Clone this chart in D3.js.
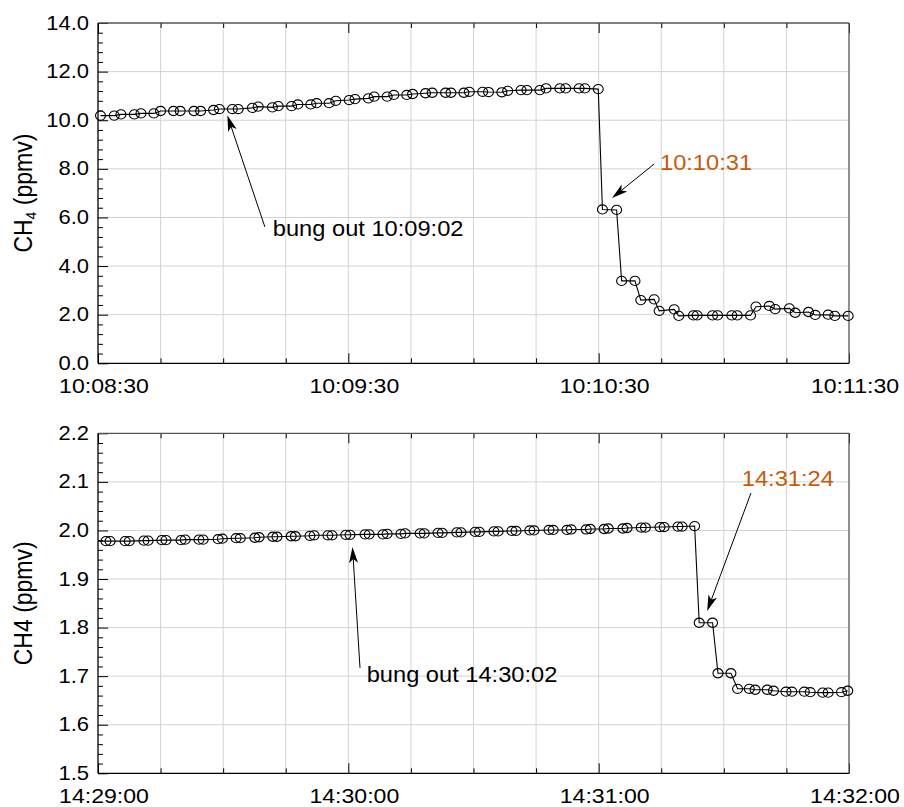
<!DOCTYPE html>
<html><head><meta charset="utf-8">
<script src="https://cdn.jsdelivr.net/npm/d3@7"></script>
<style>body{margin:0;background:#fff} svg{display:block}</style>
</head><body><svg id="c" width="904" height="807"></svg>
<script>
// ---------- DATA ----------
const topStart = "10:08:30";
const topTickLabels = ["10:08:30", "10:09:30", "10:10:30", "10:11:30"];
const topYTickLabels = ["0.0", "2.0", "4.0", "6.0", "8.0", "10.0", "12.0", "14.0"];
// seconds after 10:08:30
const topSeconds = [0.6, 3.9, 5.5, 8.7, 10.3, 13.4, 15.0, 18.1, 19.7, 23.0, 24.6, 27.7, 29.1, 32.2, 33.6,
  37.0, 38.4, 41.8, 43.2, 46.4, 47.9, 51.0, 52.4, 55.4, 57.0, 60.2, 61.6, 64.8, 66.2, 69.3, 70.9,
  74.0, 75.4, 78.5, 80.1, 83.3, 84.6, 87.7, 89.0, 92.2, 93.6, 96.8, 98.2, 101.4, 102.8, 105.9, 107.4,
  110.7, 112.1, 115.3, 116.7, 119.9, 120.9, 124.3, 125.5, 128.7, 130.1, 133.3, 134.5, 138.1, 139.2,
  142.7, 143.6, 147.3, 148.5, 151.9, 153.2, 156.4, 157.7, 160.9, 162.3, 165.7, 167.1, 170.3, 171.9,
  175.0, 176.6, 179.8];
const topValues = [10.19, 10.19, 10.24, 10.24, 10.28, 10.28, 10.38, 10.38, 10.38, 10.38, 10.38, 10.42, 10.46, 10.46, 10.46,
  10.51, 10.56, 10.53, 10.58, 10.58, 10.65, 10.65, 10.70, 10.70, 10.80, 10.83, 10.87, 10.90, 10.97, 10.97, 11.04,
  11.04, 11.08, 11.11, 11.13, 11.13, 11.13, 11.13, 11.17, 11.17, 11.16, 11.15, 11.21, 11.24, 11.24, 11.24, 11.31,
  11.31, 11.31, 11.31, 11.31, 11.28, 6.33, 6.31, 3.39, 3.39, 2.60, 2.63, 2.16, 2.22, 1.95,
  1.97, 1.97, 1.97, 1.97, 1.97, 1.97, 1.97, 2.33, 2.36, 2.23, 2.26, 2.08, 2.11, 1.99,
  2.00, 1.95, 1.95];

const botStart = "14:29:00";
const botTickLabels = ["14:29:00", "14:30:00", "14:31:00", "14:32:00"];
const botYTickLabels = ["1.5", "1.6", "1.7", "1.8", "1.9", "2.0", "2.1", "2.2"];
// seconds after 14:29:00
const botSeconds = [-2.4, 1.9, 2.9, 6.5, 7.5, 11.0, 12.0, 15.3, 16.3, 19.9, 20.9, 24.2, 25.2, 28.8, 29.8,
  33.1, 34.1, 37.6, 38.6, 41.9, 42.9, 46.3, 47.3, 50.8, 51.8, 55.1, 56.1, 59.4, 60.4, 64.0, 65.0,
  68.3, 69.3, 72.6, 73.6, 77.2, 78.2, 81.5, 82.5, 86.0, 87.0, 90.4, 91.4, 94.9, 95.9, 99.2, 100.2,
  103.5, 104.5, 108.1, 109.1, 112.4, 113.4, 117.0, 118.0, 121.3, 122.3, 125.8, 126.8, 130.2, 131.2,
  134.7, 135.7, 139.0, 140.0, 143.0,
  144.1, 147.3, 148.6, 151.7, 153.3, 156.1, 157.5, 160.4, 161.9, 164.9, 166.3, 169.3, 170.7, 173.7,
  175.0, 178.2, 179.7];
const botValues = [1.978, 1.978, 1.978, 1.978, 1.978, 1.979, 1.979, 1.980, 1.980, 1.980, 1.981, 1.981, 1.981, 1.982, 1.983,
  1.984, 1.984, 1.985, 1.986, 1.987, 1.987, 1.988, 1.988, 1.989, 1.990, 1.990, 1.990, 1.991, 1.991, 1.992, 1.992,
  1.992, 1.993, 1.993, 1.994, 1.994, 1.994, 1.995, 1.995, 1.996, 1.996, 1.997, 1.997, 1.998, 1.998, 1.999, 1.999,
  2.000, 2.000, 2.001, 2.001, 2.001, 2.002, 2.002, 2.003, 2.003, 2.004, 2.004, 2.005, 2.006, 2.006,
  2.007, 2.007, 2.008, 2.008, 2.009,
  1.810, 1.810, 1.706, 1.706, 1.674, 1.674, 1.672, 1.672, 1.670, 1.668, 1.668, 1.668, 1.667, 1.666,
  1.666, 1.667, 1.670];

// annotations in data coordinates (seconds, value)
const topAnnotations = [
  {text: "bung out 10:09:02", color: "#000", tip: [31.0, 10.2], tail: [40.0, 5.61], at: [41.9, 5.24]},
  {text: "10:10:31", color: "#c85a0a", tip: [123.2, 6.80], tail: [133.3, 8.20], at: [134.7, 7.95]}
];
const botAnnotations = [
  {text: "bung out 14:30:02", color: "#000", tip: [61.0, 1.966], tail: [62.8, 1.717], at: [64.4, 1.689]},
  {text: "14:31:24", color: "#c85a0a", tip: [146.0, 1.834], tail: [156.5, 2.077], at: [154.3, 2.092]}
];

// ---------- DRAW ----------
const svg = d3.select("#c");
const SX = 1.1;
const FONT = "'Liberation Sans', Arial, Helvetica, sans-serif";
const L = 98, R = 849;
const parse = d3.timeParse("%H:%M:%S");

function txt(g, x, y, s, size, anchor, color) {
  return g.append("text")
    .attr("transform", `translate(${x},${y}) scale(${SX},1)`)
    .attr("text-anchor", anchor).attr("font-family", FONT)
    .attr("font-size", size).attr("fill", color || "#000").text(s);
}

function arrow(g, x1, y1, x2, y2) {
  const dx = x2 - x1, dy = y2 - y1, len = Math.hypot(dx, dy);
  const ux = dx / len, uy = dy / len, px = -uy, py = ux;
  const HL = 16, HW = 4.5, N = 4;
  g.append("line").attr("x1", x1).attr("y1", y1)
    .attr("x2", x2 - ux * (HL - N)).attr("y2", y2 - uy * (HL - N))
    .attr("stroke", "#000").attr("stroke-width", 1);
  const p = [[x2, y2], [x2 - ux * HL + px * HW, y2 - uy * HL + py * HW],
             [x2 - ux * (HL - N), y2 - uy * (HL - N)], [x2 - ux * HL - px * HW, y2 - uy * HL - py * HW]];
  g.append("path").attr("d", "M" + p.map(q => q.join(",")).join("L") + "Z").attr("fill", "#000");
}

function panel(o, idx) {
  const base = parse(o.start);
  const t = s => new Date(base.getTime() + s * 1000);
  const x = d3.scaleTime().domain([t(0), t(180)]).range([L, R]);
  const yVals = o.yLabels.map(Number);
  const y = d3.scaleLinear().domain([yVals[0], yVals[yVals.length - 1]]).range([o.bottom, o.top]);
  const g = svg.append("g");

  const gridTimes = d3.range(0, 181, 15).map(t);
  // grid
  g.selectAll(".vg").data(gridTimes.slice(1, -1)).join("line")
    .attr("x1", d => x(d)).attr("x2", d => x(d)).attr("y1", o.top).attr("y2", o.bottom)
    .attr("stroke", "#d3d3d3").attr("stroke-width", 1);
  g.selectAll(".hg").data(yVals.slice(1, -1)).join("line")
    .attr("x1", L).attr("x2", R).attr("y1", d => y(d)).attr("y2", d => y(d))
    .attr("stroke", "#d3d3d3").attr("stroke-width", 1);

  const majorT = o.xLabels.map(s => parse(s));
  const minorT = gridTimes.filter((d, i) => i % 4 !== 0);
  const step = yVals[1] - yVals[0];
  const minorY = d3.range(0, (yVals.length - 1) * 5 + 1).map(i => yVals[0] + i * step / 5)
    .filter((d, i) => i % 5 !== 0);

  function ax(sel) { sel.select(".domain").remove(); sel.selectAll("line").attr("stroke", "#000"); }
  g.append("g").attr("transform", `translate(0,${o.bottom})`)
    .call(d3.axisBottom(x).tickValues(minorT).tickSizeInner(-5).tickSizeOuter(0).tickFormat("")).call(ax);
  g.append("g").attr("transform", `translate(0,${o.bottom})`)
    .call(d3.axisBottom(x).tickValues(majorT).tickSizeInner(-10).tickSizeOuter(0).tickFormat("")).call(ax);
  g.append("g").attr("transform", `translate(0,${o.top})`)
    .call(d3.axisTop(x).tickValues(minorT).tickSizeInner(-5).tickSizeOuter(0).tickFormat("")).call(ax);
  g.append("g").attr("transform", `translate(0,${o.top})`)
    .call(d3.axisTop(x).tickValues(majorT).tickSizeInner(-10).tickSizeOuter(0).tickFormat("")).call(ax);
  g.append("g").attr("transform", `translate(${L},0)`)
    .call(d3.axisLeft(y).tickValues(minorY).tickSizeInner(-5).tickSizeOuter(0).tickFormat("")).call(ax);
  g.append("g").attr("transform", `translate(${L},0)`)
    .call(d3.axisLeft(y).tickValues(yVals).tickSizeInner(-10).tickSizeOuter(0).tickFormat("")).call(ax);

  // frame
  g.append("line").attr("x1", L).attr("x2", R).attr("y1", o.top).attr("y2", o.top).attr("stroke", "#555").attr("stroke-width", 1.3);
  g.append("line").attr("x1", R).attr("x2", R).attr("y1", o.top).attr("y2", o.bottom).attr("stroke", "#555").attr("stroke-width", 1.3);
  g.append("line").attr("x1", L).attr("x2", L).attr("y1", o.top).attr("y2", o.bottom).attr("stroke", "#000").attr("stroke-width", 1.3);
  g.append("line").attr("x1", L).attr("x2", R).attr("y1", o.bottom).attr("y2", o.bottom).attr("stroke", "#000").attr("stroke-width", 1.3);

  // labels
  o.yLabels.forEach((s, i) => txt(g, L - 9, y(yVals[i]) + 6.5, s, 20, "end"));
  o.xLabels.forEach(s => txt(g, x(parse(s)) + 6, o.bottom + 30, s, 21, "middle"));

  // title
  const tt = g.append("text")
    .attr("transform", `translate(31.5,${(o.top + o.bottom) / 2}) scale(${SX},1) rotate(-90)`)
    .attr("text-anchor", "middle").attr("font-family", FONT).attr("font-size", 23);
  if (o.sub) {
    tt.append("tspan").text("CH");
    tt.append("tspan").attr("font-size", 14).attr("dy", 4).text("4");
    tt.append("tspan").attr("dy", -4).text(" (ppmv)");
  } else {
    tt.text("CH4 (ppmv)");
  }

  // data
  const data = o.secs.map((s, i) => ({t: t(s), v: o.vals[i], s}));
  const clipId = "clip" + idx;
  svg.append("clipPath").attr("id", clipId).append("rect")
    .attr("x", L).attr("y", o.top).attr("width", R - L).attr("height", o.bottom - o.top);
  g.append("path").datum(data)
    .attr("clip-path", `url(#${clipId})`)
    .attr("d", d3.line().x(d => x(d.t)).y(d => y(d.v)))
    .attr("fill", "none").attr("stroke", "#000").attr("stroke-width", 1.1);
  g.selectAll(".pt").data(data.filter(d => d.s >= 0)).join("ellipse")
    .attr("cx", d => x(d.t)).attr("cy", d => y(d.v)).attr("rx", 5.0).attr("ry", 4.6)
    .attr("fill", "none").attr("stroke", "#000").attr("stroke-width", 1.1);

  // annotations
  o.ann.forEach(a => {
    arrow(g, x(t(a.tail[0])), y(a.tail[1]), x(t(a.tip[0])), y(a.tip[1]));
    txt(g, x(t(a.at[0])), y(a.at[1]), a.text, 21.5, "start", a.color);
  });
}

panel({start: topStart, xLabels: topTickLabels, yLabels: topYTickLabels, secs: topSeconds, vals: topValues,
       top: 23, bottom: 363.3, sub: true, ann: topAnnotations}, 0);
panel({start: botStart, xLabels: botTickLabels, yLabels: botYTickLabels, secs: botSeconds, vals: botValues,
       top: 433.3, bottom: 773.3, sub: false, ann: botAnnotations}, 1);
</script>
</body></html>
